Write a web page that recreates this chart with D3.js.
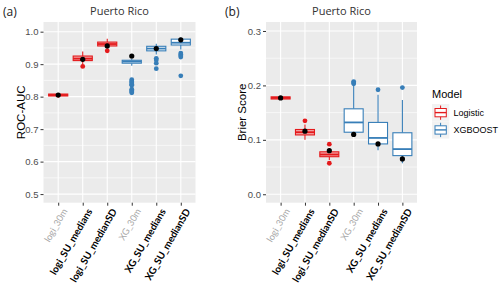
<!DOCTYPE html>
<html><head><meta charset="utf-8">
<script src="https://cdn.jsdelivr.net/npm/d3@7"></script>
<style>body{margin:0;background:#fff}svg{display:block}</style>
</head><body><svg id="c" width="500" height="284"></svg>
<script>
const categories = ["logi_30m","logi_SU_medians","logi_SU_medianSD","XG_30m","XG_SU_medians","XG_SU_medianSD"];
const models = ["Logistic","Logistic","Logistic","XGBOOST","XGBOOST","XGBOOST"];
const labelBold = [false,true,true,false,true,true];

// Panel (a): ROC-AUC
const aucLow  = [0.796, 0.900, 0.947, 0.895, 0.930, 0.945];
const aucQ1   = [0.802, 0.911, 0.956, 0.903, 0.941, 0.959];
const aucMed  = [0.805, 0.917, 0.962, 0.908, 0.948, 0.966];
const aucQ3   = [0.808, 0.925, 0.968, 0.912, 0.955, 0.977];
const aucHigh = [0.811, 0.939, 0.978, 0.916, 0.963, 0.982];
const aucOut  = [[], [0.893], [0.941],
                 [0.852,0.848,0.845,0.842,0.838,0.835,0.823,0.819,0.815,0.812],
                 [0.918,0.913,0.903,0.886],
                 [0.934,0.930,0.926,0.922,0.864]];
const aucPoint = [0.805, 0.915, 0.956, 0.925, 0.948, 0.975];
const aucTicks = [0.5,0.6,0.7,0.8,0.9,1.0];

// Panel (b): Brier Score
const brLow  = [0.174, 0.100, 0.063, 0.108, 0.081, 0.057];
const brQ1   = [0.175, 0.109, 0.069, 0.114, 0.0925, 0.071];
const brMed  = [0.177, 0.114, 0.073, 0.132, 0.1035, 0.083];
const brQ3   = [0.179, 0.119, 0.078, 0.157, 0.132, 0.113];
const brHigh = [0.180, 0.128, 0.085, 0.200, 0.183, 0.173];
const brOut  = [[], [0.135], [0.092,0.057], [0.207,0.205,0.203], [0.192], [0.196]];
const brPoint = [0.177, 0.116, 0.080, 0.110, 0.0925, 0.065];
const brTicks = [0.0,0.1,0.2,0.3];

const colors = {Logistic:"#E41A1C", XGBOOST:"#377EB8"};
const fills = {Logistic:"#F3A3A4", XGBOOST:"#FFFFFF"};

const svg = d3.select("#c");
const numFont = "'Liberation Sans', Arial, sans-serif";
const txtFont = "Lato, 'Open Sans', sans-serif";
const titleFont = "'Open Sans', 'Noto Sans', sans-serif";

function panel(opt){
  const {x0,x1,y0,y1,domain,ticks,minor,fmt,low,q1,med,q3,high,out,pt,title,ylab,ylabX,tag,tagX} = opt;
  const g = svg.append("g");
  const x = d3.scalePoint().domain(categories).range([x0,x1]).padding(0.6);
  const y = d3.scaleLinear().domain(domain).range([y1,y0]);
  g.append("rect").attr("x",x0).attr("y",y0).attr("width",x1-x0).attr("height",y1-y0).attr("fill","#EBEBEB");
  g.selectAll(".mn").data(minor).join("line").attr("x1",x0).attr("x2",x1)
    .attr("y1",d=>y(d)).attr("y2",d=>y(d)).attr("stroke","#fff").attr("stroke-width",0.6);
  g.selectAll(".mj").data(ticks).join("line").attr("x1",x0).attr("x2",x1)
    .attr("y1",d=>y(d)).attr("y2",d=>y(d)).attr("stroke","#fff").attr("stroke-width",1.1);
  g.selectAll(".vx").data(categories).join("line").attr("x1",d=>x(d)).attr("x2",d=>x(d))
    .attr("y1",y0).attr("y2",y1).attr("stroke","#fff").attr("stroke-width",1.1);

  const ya = g.append("g").attr("transform",`translate(${x0},0)`)
    .call(d3.axisLeft(y).tickValues(ticks).tickFormat(fmt).tickSize(3).tickPadding(2));
  ya.select(".domain").remove();
  ya.selectAll("line").attr("stroke","#333");
  ya.selectAll("text").attr("fill","#4D4D4D").style("font-family",numFont).style("font-size","9.5px");
  const xa = g.append("g").attr("transform",`translate(0,${y1})`)
    .call(d3.axisBottom(x).tickSize(3).tickFormat(""));
  xa.select(".domain").remove();
  xa.selectAll("line").attr("stroke","#333");
  g.selectAll(".xl").data(categories).join("text")
    .attr("transform",d=>`translate(${x(d)+4},${y1+5}) rotate(-60)`)
    .attr("text-anchor","end").attr("dy","0.7em")
    .style("font-family",txtFont)
    .style("font-size",(d,i)=>labelBold[i]?"9.9px":"9.2px")
    .style("font-weight",(d,i)=>labelBold[i]?"700":"400")
    .attr("fill",(d,i)=>labelBold[i]?"#000":"#A6A6A6")
    .text(d=>d);

  const bw = x.step()*0.78;
  categories.forEach((c,i)=>{
    const col = colors[models[i]], cx = x(c);
    g.append("line").attr("x1",cx).attr("x2",cx).attr("y1",y(high[i])).attr("y2",y(q3[i])).attr("stroke",col).attr("stroke-width",1.1);
    g.append("line").attr("x1",cx).attr("x2",cx).attr("y1",y(q1[i])).attr("y2",y(low[i])).attr("stroke",col).attr("stroke-width",1.1);
    g.append("rect").attr("x",cx-bw/2).attr("width",bw).attr("y",y(q3[i])).attr("height",Math.max(0.5,y(q1[i])-y(q3[i])))
      .attr("fill",fills[models[i]]).attr("stroke",col).attr("stroke-width",1.1);
    g.append("line").attr("x1",cx-bw/2).attr("x2",cx+bw/2).attr("y1",y(med[i])).attr("y2",y(med[i])).attr("stroke",col).attr("stroke-width",1.8);
    g.selectAll(null).data(out[i]).join("circle").attr("cx",cx).attr("cy",d=>y(d)).attr("r",2.4).attr("fill",col);
    g.append("circle").attr("cx",cx).attr("cy",y(pt[i])).attr("r",2.6).attr("fill","#000");
  });

  svg.append("text").attr("x",(x0+x1)/2).attr("y",15).attr("text-anchor","middle")
    .style("font-family",titleFont).style("font-size","11px").style("font-weight","400").attr("fill","#333").text(title);
  svg.append("text").attr("x",tagX).attr("y",16)
    .style("font-family",titleFont).style("font-size","12px").attr("fill","#1a1a1a").text(tag);
  svg.append("text").attr("transform",`translate(${ylabX},${(y0+y1)/2}) rotate(-90)`).attr("text-anchor","middle")
    .attr("dy","0.35em").style("font-family",numFont).style("font-size","11.5px").attr("fill","#000").text(ylab);
}

panel({x0:43.5,x1:195.5,y0:22,y1:202.7,domain:[0.4735,1.0298],ticks:aucTicks,minor:[0.55,0.65,0.75,0.85,0.95],
  fmt:d3.format(".1f"),low:aucLow,q1:aucQ1,med:aucMed,q3:aucQ3,high:aucHigh,out:aucOut,pt:aucPoint,
  title:"Puerto Rico",ylab:"ROC-AUC",ylabX:20.5,tag:"(a)",tagX:3});
panel({x0:266,x1:417,y0:22,y1:202.7,domain:[-0.0155,0.3165],ticks:brTicks,minor:[0.05,0.15,0.25],
  fmt:d3.format(".1f"),low:brLow,q1:brQ1,med:brMed,q3:brQ3,high:brHigh,out:brOut,pt:brPoint,
  title:"Puerto Rico",ylab:"Brier Score",ylabX:242,tag:"(b)",tagX:225});

const lg = svg.append("g");
lg.append("text").attr("x",432).attr("y",98).style("font-family",numFont).style("font-size","11px").attr("fill","#000").text("Model");
["Logistic","XGBOOST"].forEach((m,i)=>{
  const ky = 104 + i*17.3, kx = 432;
  lg.append("rect").attr("x",kx).attr("y",ky).attr("width",17.3).attr("height",17.3).attr("fill","#F2F2F2");
  const cx = kx+8.6;
  lg.append("line").attr("x1",cx).attr("x2",cx).attr("y1",ky+1.5).attr("y2",ky+15.8).attr("stroke",colors[m]).attr("stroke-width",1);
  lg.append("rect").attr("x",kx+3).attr("y",ky+4.5).attr("width",11.3).attr("height",8.3).attr("fill","#fff").attr("stroke",colors[m]).attr("stroke-width",1);
  lg.append("line").attr("x1",kx+3).attr("x2",kx+14.3).attr("y1",ky+8.6).attr("y2",ky+8.6).attr("stroke",colors[m]).attr("stroke-width",1.4);
  lg.append("text").attr("x",kx+21.5).attr("y",ky+8.6).attr("dy","0.35em").style("font-family",numFont).style("font-size","9px").attr("fill","#000").text(m);
});
</script></body></html>
